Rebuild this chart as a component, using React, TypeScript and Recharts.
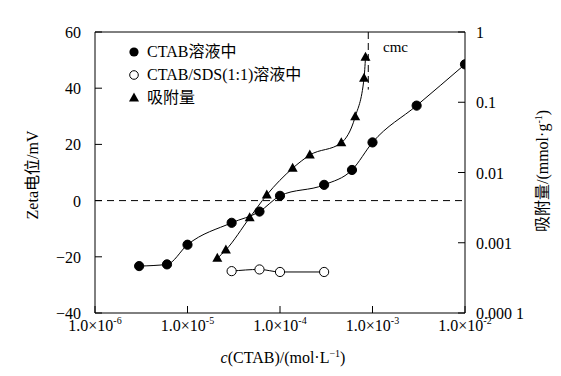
import React from "react";
import { ComposedChart, Line, XAxis, YAxis, ReferenceLine } from "recharts";

const FONT = "'Liberation Serif', 'Times New Roman', 'Noto Sans CJK SC', serif";

// CTAB solution: concentration (mol/L) vs zeta potential (mV)
const ctabConc = [3e-6, 6e-6, 1e-5, 3e-5, 6e-5, 1e-4, 3e-4, 6e-4, 1e-3, 3e-3, 1e-2];
const ctabZeta = [-23.3, -22.7, -15.7, -7.9, -3.9, 1.7, 5.6, 10.9, 20.7, 33.8, 48.5];

// CTAB/SDS (1:1) solution
const mixConc = [3e-5, 6e-5, 1e-4, 3e-4];
const mixZeta = [-25.1, -24.5, -25.4, -25.4];

// adsorption amount (mmol/g), right axis
const adsConc = [2.1e-5, 2.6e-5, 4.7e-5, 7.2e-5, 1.37e-4, 2.1e-4, 4.6e-4, 6.5e-4, 8.1e-4, 8.4e-4];
const adsAmount = [6.0e-4, 7.9e-4, 2.27e-3, 4.8e-3, 0.0115, 0.0177, 0.0265, 0.062, 0.219, 0.436];

const xTicks = [1e-6, 1e-5, 1e-4, 1e-3, 1e-2];
const xTickExp = ["-6", "-5", "-4", "-3", "-2"];
const zetaTicks = [-40, -20, 0, 20, 40, 60];
const adsTicks = [1e-4, 1e-3, 1e-2, 0.1, 1];
const adsTickLabels = ["0.000 1", "0.001", "0.01", "0.1", "1"];
const cmc = 9e-4;

const ctabData = ctabConc.map((c, i) => ({ c, v: ctabZeta[i] }));
const mixData = mixConc.map((c, i) => ({ c, v: mixZeta[i] }));
const adsData = adsConc.map((c, i) => ({ c, v: adsAmount[i] }));

const FilledDot = (p: any) => <circle cx={p.cx} cy={p.cy} r={4.6} fill="#000" stroke="#000" />;
const OpenDot = (p: any) => <circle cx={p.cx} cy={p.cy} r={4.6} fill="#fff" stroke="#000" strokeWidth={1} />;
const TriDot = (p: any) => (
  <polygon
    points={`${p.cx},${p.cy - 5.5} ${p.cx - 5},${p.cy + 3.5} ${p.cx + 5},${p.cy + 3.5}`}
    fill="#000"
  />
);

const XTick = (p: any) => {
  const i = xTicks.indexOf(p.payload.value);
  return (
    <text x={p.x} y={p.y + 12} textAnchor="middle" fontFamily={FONT} fontSize={16} fill="#000">
      <tspan>1.0×10</tspan>
      <tspan dy={-7} fontSize={10}>{xTickExp[i]}</tspan>
    </text>
  );
};

const ZetaTick = (p: any) => (
  <text x={p.x} y={p.y + 6} textAnchor="end" fontFamily={FONT} fontSize={16} fill="#000">
    {p.payload.value < 0 ? "\u2212" + Math.abs(p.payload.value) : p.payload.value}
  </text>
);

const AdsTick = (p: any) => {
  const i = adsTicks.indexOf(p.payload.value);
  return (
    <text x={p.x} y={p.y + 6} textAnchor="start" fontFamily={FONT} fontSize={16} fill="#000">
      {adsTickLabels[i]}
    </text>
  );
};

const legendItems = [
  { name: "CTAB溶液中", dot: <circle cx={7} cy={8} r={4.6} fill="#000" /> },
  { name: "CTAB/SDS(1:1)溶液中", dot: <circle cx={7} cy={8} r={4.3} fill="#fff" stroke="#000" /> },
  { name: "吸附量", dot: <polygon points="7,2.5 2,11.5 12,11.5" fill="#000" /> },
];

const LegendBox = () => (
  <div
    style={{
      position: "absolute",
      left: 127,
      top: 40,
      fontFamily: FONT,
      fontSize: 16,
      color: "#000",
      lineHeight: "23px",
    }}
  >
    {legendItems.map((it) => (
      <div key={it.name} style={{ display: "flex", alignItems: "center" }}>
        <svg width={14} height={16} style={{ marginRight: 6 }}>
          {it.dot}
        </svg>
        <span>{it.name}</span>
      </div>
    ))}
  </div>
);

export default function App() {
  return (
    <div style={{ position: "absolute", left: 0, top: 0, width: 561, height: 376, background: "#fff" }}>
      <ComposedChart width={561} height={376} margin={{ top: 32, right: 36, bottom: 33, left: 35 }}>
        <XAxis
          dataKey="c"
          type="number"
          scale="log"
          domain={[1e-6, 1e-2]}
          ticks={xTicks}
          allowDataOverflow
          height={30}
          stroke="#000"
          tickSize={-7}
          tickMargin={13}
          tick={<XTick />}
          label={{
            content: () => (
              <text x={283} y={363} textAnchor="middle" fontFamily={FONT} fontSize={16} fill="#000">
                <tspan fontStyle="italic">c</tspan>
                <tspan>(CTAB)/(mol·L</tspan>
                <tspan dy={-6} fontSize={10}>−1</tspan>
                <tspan dy={6}>)</tspan>
              </text>
            ),
          }}
        />
        <YAxis
          yAxisId="left"
          type="number"
          domain={[-40, 60]}
          ticks={zetaTicks}
          width={60}
          stroke="#000"
          tickSize={-7}
          tickMargin={21}
          tick={<ZetaTick />}
          label={{
            content: () => (
              <text
                x={38}
                y={175}
                textAnchor="middle"
                transform="rotate(-90 38 175)"
                fontFamily={FONT}
                fontSize={16}
                fill="#000"
              >
                Zeta电位/mV
              </text>
            ),
          }}
        />
        <YAxis
          yAxisId="right"
          orientation="right"
          type="number"
          scale="log"
          domain={[1e-4, 1]}
          ticks={adsTicks}
          allowDataOverflow
          width={60}
          stroke="#000"
          tickSize={-7}
          tickMargin={18}
          tick={<AdsTick />}
          label={{
            content: () => (
              <text
                x={548}
                y={171}
                textAnchor="middle"
                transform="rotate(-90 548 171)"
                fontFamily={FONT}
                fontSize={16}
                fill="#000"
              >
                <tspan>吸附量/(mmol·g</tspan>
                <tspan dy={-6} fontSize={10}>-1</tspan>
                <tspan dy={6}>)</tspan>
              </text>
            ),
          }}
        />
        <ReferenceLine yAxisId="left" y={60} stroke="#000" />
        <ReferenceLine yAxisId="left" y={0} stroke="#000" strokeDasharray="7 5" />
        <ReferenceLine
          yAxisId="left"
          segment={[
            { x: cmc, y: 60 },
            { x: cmc, y: 39.5 },
          ]}
          stroke="#000"
          strokeDasharray="7 4"
          label={{
            content: () => (
              <text x={383} y={52} fontFamily={FONT} fontSize={15} fill="#000">
                cmc
              </text>
            ),
          }}
        />
        <Line
          yAxisId="left"
          data={ctabData}
          dataKey="v"
          type="monotone"
          stroke="#000"
          strokeWidth={1}
          dot={<FilledDot />}
          isAnimationActive={false}
        />
        <Line
          yAxisId="left"
          data={mixData}
          dataKey="v"
          type="monotone"
          stroke="#000"
          strokeWidth={1}
          dot={<OpenDot />}
          isAnimationActive={false}
        />
        <Line
          yAxisId="right"
          data={adsData}
          dataKey="v"
          type="monotone"
          stroke="#000"
          strokeWidth={1}
          dot={<TriDot />}
          isAnimationActive={false}
        />
      </ComposedChart>
      <LegendBox />
    </div>
  );
}
